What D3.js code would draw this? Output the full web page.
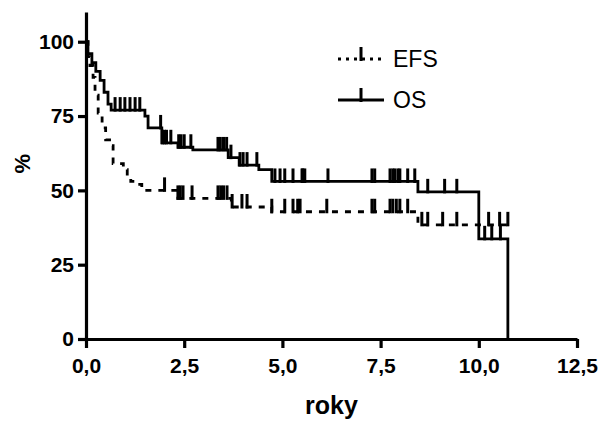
<!DOCTYPE html>
<html lang="cs">
<head>
<meta charset="utf-8">
<title>EFS / OS</title>
<script src="https://cdn.jsdelivr.net/npm/d3@7"></script>
<style>
  body { margin: 0; background: #fff; }
  svg text { font-family: "Liberation Sans", Arial, sans-serif; fill: #000; }
  .axis path, .axis line { stroke: #000; stroke-width: 3.2px; }
  .axis text { font-size: 21px; font-weight: bold; }
</style>
</head>
<body>
<script>
// step times (years) and survival (%)
var osTimes  = [0, 0.05, 0.15, 0.25, 0.36, 0.46, 0.56, 0.64, 1.5, 1.58, 1.93, 2.34, 2.72, 3.62, 3.9, 4.4, 4.73, 8.45, 10.0, 10.74];
var osValues = [100, 96, 93, 90, 87, 83, 79, 77, 75, 71, 66, 64.5, 63.6, 61, 58.5, 57, 53, 49.5, 33.7, 0];
var osCensored = [0.74, 0.87, 0.99, 1.12, 1.25, 1.37, 1.9, 1.95, 2.0, 2.05, 2.16, 2.36, 2.42, 2.5, 2.67,
  3.36, 3.42, 3.5, 3.58, 3.69, 3.92, 4.0, 4.1, 4.35, 4.81, 4.94, 5.06, 5.27, 5.5, 5.52, 5.57, 6.16,
  7.28, 7.35, 7.74, 7.81, 7.86, 7.94, 7.99, 8.19, 8.37, 8.7, 9.13, 9.44, 10.15, 10.33, 10.55];

var efsTimes  = [0, 0.05, 0.1, 0.18, 0.23, 0.31, 0.41, 0.5, 0.6, 0.69, 0.95, 1.05, 1.14, 1.27, 1.42, 2.34, 3.7, 4.73, 8.45, 10.74];
var efsValues = [100, 95, 92, 88, 82, 76, 71, 67, 65, 59, 57, 55, 53, 52, 50, 47.3, 44.4, 42.8, 38.4, 38.4];
var efsCensored = [2.0, 2.34, 2.4, 2.47, 2.7, 3.36, 3.43, 3.5, 3.59, 3.72, 3.97, 4.1, 4.73, 5.06, 5.27,
  5.39, 5.45, 6.13, 7.28, 7.35, 7.74, 7.81, 7.9, 7.99, 8.19, 8.55, 8.7, 9.08, 9.44, 10.25, 10.53, 10.74];

var xTicks = [0, 2.5, 5, 7.5, 10, 12.5];
var yTicks = [0, 25, 50, 75, 100];

var w = 601, h = 422;

var svg = d3.select("body").append("svg")
  .attr("width", w).attr("height", h);

var x = d3.scaleLinear().domain([0, 12.5]).range([86, 577]);
var y = d3.scaleLinear().domain([0, 110]).range([339, 12]);

// axes
svg.append("g")
  .attr("class", "axis")
  .attr("transform", "translate(0," + y(0) + ")")
  .call(d3.axisBottom(x).tickValues(xTicks).tickSize(9).tickSizeOuter(0)
    .tickFormat(function(d) { return d3.format(".1f")(d).replace(".", ","); }))
  .call(function(g) { g.selectAll("text").attr("dy", "1.05em"); });

svg.append("g")
  .attr("class", "axis")
  .attr("transform", "translate(" + x(0) + ",0)")
  .call(d3.axisLeft(y).tickValues(yTicks).tickSize(8).tickSizeOuter(0))
  .call(function(g) { g.selectAll("text").attr("x", -12); });

// axis titles
svg.append("text")
  .attr("transform", "translate(30," + y(59) + ") rotate(-90)")
  .attr("text-anchor", "middle")
  .style("font-size", "22px").style("font-weight", "bold")
  .text("%");

svg.append("text")
  .attr("x", (x(0) + x(12.5)) / 2).attr("y", 414)
  .attr("text-anchor", "middle")
  .style("font-size", "25px").style("font-weight", "bold")
  .text("roky");

var line = d3.line()
  .x(function(d) { return x(d[0]); })
  .y(function(d) { return y(d[1]); })
  .curve(d3.curveStepAfter);

function valueAt(times, values, t) {
  var i = d3.bisectRight(times, t) - 1;
  return values[Math.max(0, i)];
}

function drawSeries(times, values, censored, dash) {
  var pts = times.map(function(t, i) { return [t, values[i]]; });
  svg.append("path")
    .attr("d", line(pts))
    .attr("fill", "none")
    .attr("stroke", "#000")
    .attr("stroke-width", 2.8)
    .attr("stroke-dasharray", dash);

  svg.selectAll(null)
    .data(censored)
    .enter()
    .append("line")
    .attr("x1", function(d) { return x(d); })
    .attr("x2", function(d) { return x(d); })
    .attr("y1", function(d) { return y(valueAt(times, values, d)) - 13; })
    .attr("y2", function(d) { return y(valueAt(times, values, d)) + 1.5; })
    .attr("stroke", "#000")
    .attr("stroke-width", 3);
}

drawSeries(efsTimes, efsValues, efsCensored, "6,7");
drawSeries(osTimes, osValues, osCensored, null);

// legend
var legend = [
  { name: "EFS", dash: "3,5", y: 59 },
  { name: "OS", dash: null, y: 100 }
];
var lg = svg.selectAll(".lg").data(legend).enter().append("g").attr("class", "lg");
lg.append("line")
  .attr("x1", 338).attr("x2", 384)
  .attr("y1", function(d) { return d.y; }).attr("y2", function(d) { return d.y; })
  .attr("stroke", "#000").attr("stroke-width", 2.8)
  .attr("stroke-dasharray", function(d) { return d.dash; });
lg.append("line")
  .attr("x1", 361).attr("x2", 361)
  .attr("y1", function(d) { return d.y - 12; }).attr("y2", function(d) { return d.y + 2; })
  .attr("stroke", "#000").attr("stroke-width", 3);
lg.append("text")
  .attr("x", 393).attr("y", function(d) { return d.y + 8; })
  .style("font-size", "23px")
  .text(function(d) { return d.name; });
</script>
</body>
</html>
